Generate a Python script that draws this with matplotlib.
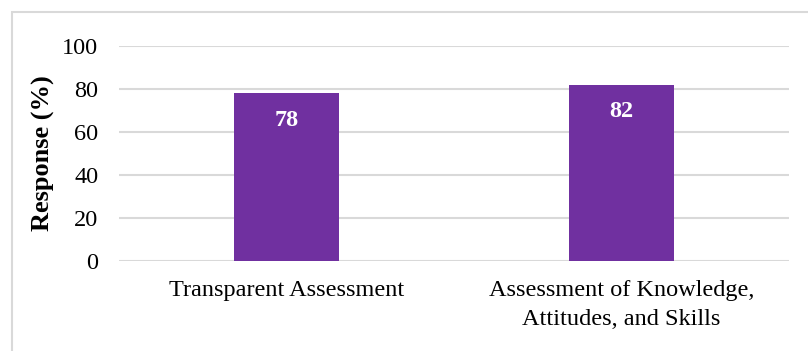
import numpy as np
import matplotlib.pyplot as plt
from matplotlib.patches import Rectangle

# survey responses, percent
categories = ["Transparent Assessment", "Assessment of Knowledge,\nAttitudes, and Skills"]
values = [78, 82]
yticks = [0, 20, 40, 60, 80, 100]

purple = '#7030A0'
grid_grey = '#D9D9D9'

plt.rcParams['font.family'] = ['Liberation Serif', 'DejaVu Serif']

fig = plt.figure(figsize=(8.08, 3.51), dpi=100)
ax = fig.add_axes([119/808, 1-261/351, (789-119)/808, (261-46)/351])

x = np.arange(len(categories))
bars = ax.bar(x, values, width=0.315, color=purple, zorder=3)

for b, v in zip(bars, values):
    ax.text(b.get_x()+b.get_width()/2, v - 12.6, str(v), ha='center', va='center',
            color='white', fontsize=17.5, fontweight='bold', zorder=4)

ax.set_xlim(-0.5, len(categories)-0.5)
ax.set_ylim(0, 100)
ax.set_yticks(yticks)
ax.set_xticks(x)
ax.set_xticklabels(categories, fontsize=17.5, linespacing=1.45)
ax.tick_params(axis='y', length=0, pad=15, labelsize=17.5)
ax.tick_params(axis='x', length=0, pad=14)
ax.yaxis.grid(True, color=grid_grey, lw=1.5, zorder=0)
ax.set_axisbelow(True)
for s in ax.spines.values():
    s.set_visible(False)

ax.set_ylabel('Response (%)', fontsize=19, fontweight='bold')
ax.yaxis.set_label_coords(-0.096, 0.5)

# chart-area frame (runs off the right and bottom edges)
fig.patches.append(Rectangle((12/808, -0.2), 1.2, 1-12/351+0.2, transform=fig.transFigure,
                             fill=False, edgecolor=grid_grey, lw=1.5))

fig.savefig('out.png', dpi=100)
